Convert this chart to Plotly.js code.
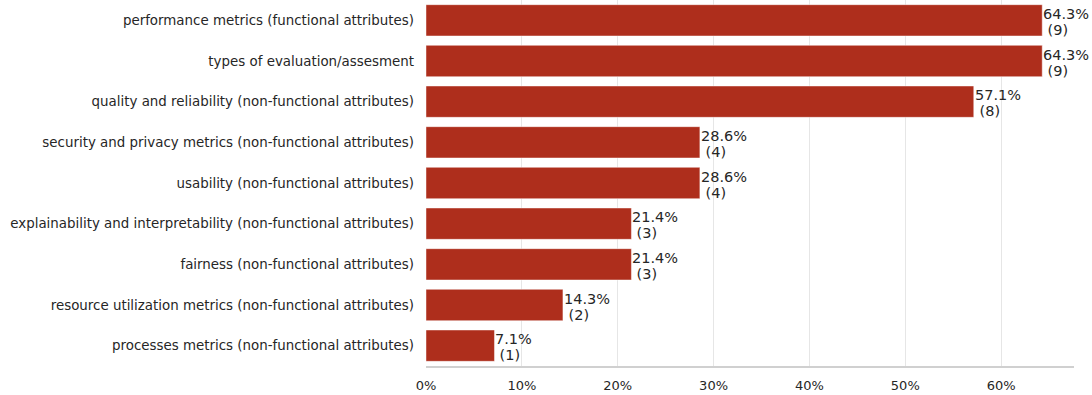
<!DOCTYPE html>
<html>
<head>
<meta charset="utf-8">
<script src="https://cdn.plot.ly/plotly-3.0.1.min.js"></script>
<style>html,body{margin:0;padding:0;background:#fff;}#chart{width:1092px;height:395px;}</style>
</head>
<body>
<div id="chart"></div>
<script>
var categories = [
  "performance metrics (functional attributes)",
  "types of evaluation/assesment",
  "quality and reliability (non-functional attributes)",
  "security and privacy metrics (non-functional attributes)",
  "usability (non-functional attributes)",
  "explainability and interpretability (non-functional attributes)",
  "fairness (non-functional attributes)",
  "resource utilization metrics (non-functional attributes)",
  "processes metrics (non-functional attributes)"
];
var counts = [9, 9, 8, 4, 4, 3, 3, 2, 1];
var total = 14;
var shares = counts.map(function(c){ return c / total; });

var trace = {
  type: 'bar',
  orientation: 'h',
  x: shares,
  y: categories,
  marker: {color: '#AE2E1C', line: {color: 'rgba(255,255,255,0.45)', width: 1}},
  hoverinfo: 'none'
};

var annFont = {family: 'DejaVu Sans', size: 14.5, color: '#262626'};
var annotations = [];
categories.forEach(function(cat, i){
  annotations.push({
    x: shares[i], y: cat, xref: 'x', yref: 'y',
    text: (shares[i]*100).toFixed(1) + '%',
    showarrow: false, xanchor: 'left', yanchor: 'middle', align: 'left',
    font: annFont, xshift: -1, yshift: 6.5
  });
  annotations.push({
    x: shares[i], y: cat, xref: 'x', yref: 'y',
    text: ' (' + counts[i] + ')',
    showarrow: false, xanchor: 'left', yanchor: 'middle', align: 'left',
    font: annFont, xshift: -1, yshift: -9.5
  });
});

var layout = {
  width: 1092, height: 395,
  margin: {l: 426, r: 18, t: 0, b: 29, pad: 0},
  paper_bgcolor: '#fff', plot_bgcolor: '#fff',
  showlegend: false,
  bargap: 0.23,
  font: {family: 'DejaVu Sans', size: 13, color: '#262626'},
  xaxis: {
    range: [0, 0.676], dtick: 0.1, tick0: 0, tickformat: '.0%',
    showgrid: true, gridcolor: '#e6e6e6', gridwidth: 1,
    zeroline: false, showline: true, linecolor: '#d0d0d0', linewidth: 2,
    ticks: '', ticklabelstandoff: 6,
    tickfont: {family: 'DejaVu Sans', size: 13, color: '#262626'}
  },
  yaxis: {
    categoryorder: 'array', categoryarray: categories.slice().reverse(),
    autorange: true, showgrid: false, zeroline: false, showline: false,
    ticks: '', ticklabelstandoff: 11,
    tickfont: {family: 'DejaVu Sans', size: 13.4, color: '#262626'}
  },
  annotations: annotations
};

Plotly.newPlot('chart', [trace], layout, {staticPlot: true, displayModeBar: false});
</script>
</body>
</html>
